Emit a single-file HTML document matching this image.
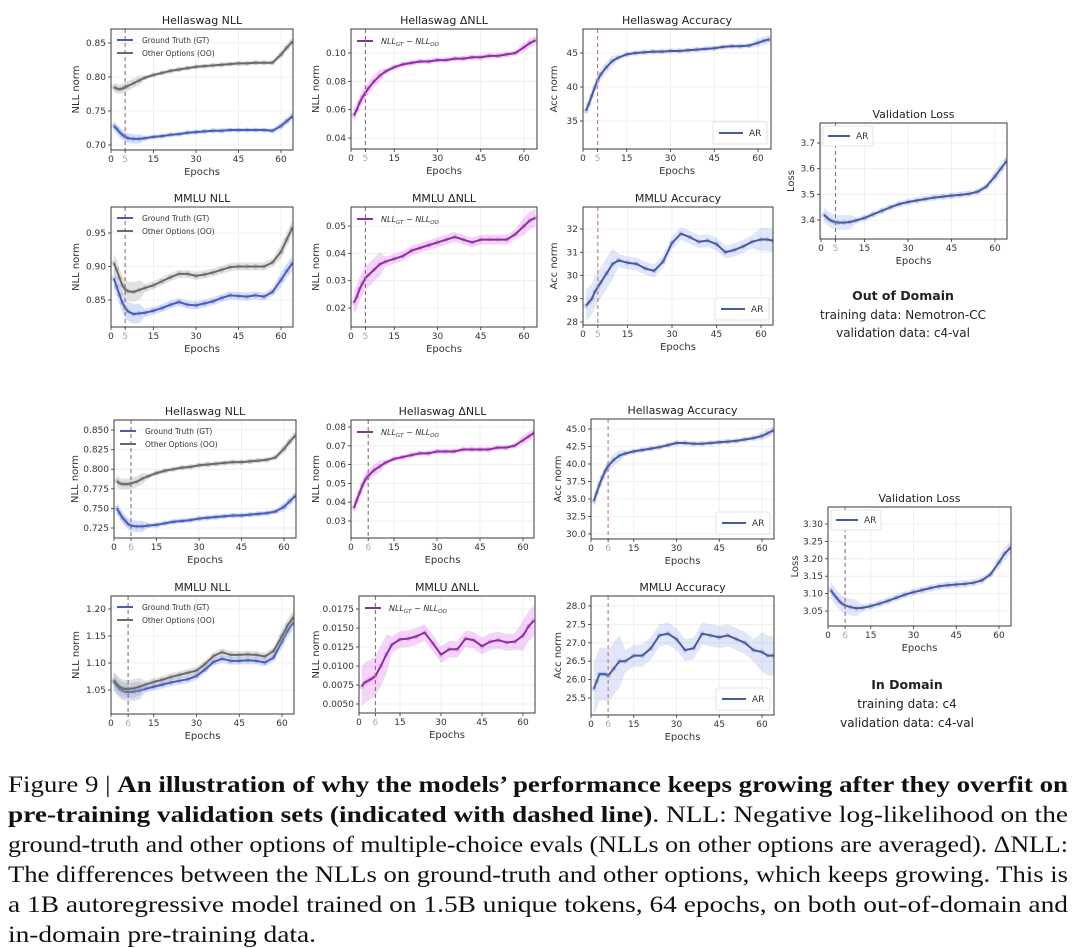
<!DOCTYPE html>
<html><head><meta charset="utf-8">
<style>
html,body{margin:0;padding:0;background:#fff;}
svg{display:block;}
</style></head>
<body>
<svg id="fig" width="1080" height="948" viewBox="0 0 1080 948" xmlns="http://www.w3.org/2000/svg">
<rect width="1080" height="948" fill="#fff"/>
<g id="charts"></g>
<g id="notes" font-family="DejaVu Sans, Liberation Sans, sans-serif" text-anchor="middle" fill="#222">
  <text x="903" y="300" font-size="12.5" font-weight="bold">Out of Domain</text>
  <text x="903" y="319" font-size="12">training data: Nemotron-CC</text>
  <text x="903" y="337" font-size="12">validation data: c4-val</text>
  <text x="907" y="689" font-size="12.5" font-weight="bold">In Domain</text>
  <text x="907" y="708" font-size="12">training data: c4</text>
  <text x="907" y="727" font-size="12">validation data: c4-val</text>
</g>
<g id="caption" font-family="Liberation Serif, serif" font-size="23" fill="#111">
  <text x="8" y="792" textLength="1060" lengthAdjust="spacingAndGlyphs">Figure 9 | <tspan font-weight="bold">An illustration of why the models’ performance keeps growing after they overfit on</tspan></text>
  <text x="8" y="822" textLength="1060" lengthAdjust="spacingAndGlyphs"><tspan font-weight="bold">pre-training validation sets (indicated with dashed line)</tspan>. NLL: Negative log-likelihood on the</text>
  <text x="8" y="852" textLength="1060" lengthAdjust="spacingAndGlyphs">ground-truth and other options of multiple-choice evals (NLLs on other options are averaged). ΔNLL:</text>
  <text x="8" y="882" textLength="1060" lengthAdjust="spacingAndGlyphs">The differences between the NLLs on ground-truth and other options, which keeps growing. This is</text>
  <text x="8" y="912" textLength="1060" lengthAdjust="spacingAndGlyphs">a 1B autoregressive model trained on 1.5B unique tokens, 64 epochs, on both out-of-domain and</text>
  <text x="8" y="942" textLength="308" lengthAdjust="spacingAndGlyphs">in-domain pre-training data.</text>
</g>
</svg>
<script>
// ---- data (epochs shared by every series) ----
const epochs = [1,2,3,4,5,6,8,10,12,15,18,21,24,27,30,33,36,39,42,45,48,51,54,57,60,62,64];
const xTicksA = [0,5,15,30,45,60];
const xTicksB = [0,6,15,30,45,60];
const overfitA = 5;
const overfitB = 6;
// Out-of-domain
const hsNllGtA = [0.728,0.724,0.719,0.715,0.712,0.710,0.709,0.709,0.710,0.712,0.713,0.715,0.716,0.718,0.719,0.720,0.721,0.721,0.722,0.722,0.722,0.722,0.722,0.721,0.728,0.735,0.742];
const hsNllOoA = [0.785,0.783,0.782,0.783,0.785,0.787,0.791,0.795,0.799,0.803,0.806,0.809,0.811,0.813,0.815,0.816,0.817,0.818,0.819,0.820,0.820,0.821,0.821,0.821,0.833,0.843,0.852];
const hsDeltaA = [0.056,0.060,0.065,0.069,0.072,0.075,0.080,0.084,0.087,0.090,0.092,0.093,0.094,0.094,0.095,0.095,0.096,0.096,0.097,0.097,0.098,0.098,0.099,0.100,0.104,0.107,0.109];
const hsAccA = [36.5,37.5,38.7,39.9,41.0,41.8,42.9,43.8,44.3,44.8,45.0,45.1,45.2,45.2,45.3,45.3,45.4,45.5,45.6,45.7,45.9,46.0,46.0,46.1,46.5,46.8,47.0];
const mmNllGtA = [0.882,0.870,0.858,0.846,0.838,0.833,0.829,0.830,0.831,0.834,0.838,0.843,0.847,0.843,0.842,0.845,0.848,0.853,0.857,0.856,0.855,0.857,0.855,0.862,0.880,0.893,0.905];
const mmNllOoA = [0.905,0.895,0.883,0.872,0.866,0.863,0.862,0.865,0.868,0.872,0.878,0.884,0.889,0.889,0.886,0.888,0.891,0.895,0.899,0.900,0.900,0.900,0.900,0.906,0.922,0.940,0.958];
const mmDeltaA = [0.022,0.024,0.027,0.029,0.031,0.032,0.034,0.036,0.037,0.038,0.039,0.041,0.042,0.043,0.044,0.045,0.046,0.045,0.044,0.045,0.045,0.045,0.045,0.047,0.050,0.052,0.053];
const mmAccA = [28.7,28.85,29.0,29.3,29.5,29.7,30.1,30.5,30.65,30.55,30.5,30.3,30.2,30.6,31.4,31.8,31.65,31.45,31.5,31.35,31.0,31.1,31.25,31.45,31.55,31.55,31.5];
const valLossA = [3.420,3.410,3.400,3.395,3.392,3.390,3.390,3.392,3.398,3.408,3.422,3.436,3.450,3.462,3.470,3.476,3.482,3.487,3.491,3.495,3.498,3.502,3.510,3.530,3.570,3.600,3.630];
// In-domain
const hsNllGtB = [0.750,0.744,0.738,0.734,0.730,0.728,0.727,0.727,0.728,0.729,0.731,0.733,0.734,0.735,0.737,0.738,0.739,0.740,0.741,0.741,0.742,0.743,0.744,0.746,0.752,0.759,0.766];
const hsNllOoB = [0.785,0.782,0.781,0.781,0.781,0.782,0.784,0.788,0.791,0.795,0.798,0.800,0.802,0.803,0.805,0.806,0.807,0.808,0.809,0.809,0.810,0.811,0.812,0.815,0.826,0.835,0.843];
const hsDeltaB = [0.037,0.041,0.045,0.049,0.052,0.054,0.057,0.059,0.061,0.063,0.064,0.065,0.066,0.066,0.067,0.067,0.067,0.068,0.068,0.068,0.068,0.069,0.069,0.070,0.073,0.075,0.077];
const hsAccB = [34.7,35.9,37.1,38.1,39.0,39.7,40.6,41.2,41.5,41.8,42.0,42.2,42.4,42.7,43.0,43.0,42.9,42.9,43.0,43.1,43.2,43.3,43.5,43.7,44.0,44.4,44.8];
const mmNllGtB = [1.065,1.058,1.052,1.049,1.047,1.046,1.047,1.049,1.052,1.056,1.060,1.064,1.067,1.070,1.076,1.088,1.102,1.108,1.104,1.104,1.105,1.104,1.101,1.110,1.140,1.160,1.175];
const mmNllOoB = [1.068,1.061,1.056,1.053,1.052,1.052,1.053,1.056,1.060,1.065,1.069,1.074,1.078,1.082,1.086,1.098,1.113,1.120,1.115,1.115,1.116,1.115,1.112,1.122,1.150,1.170,1.185];
const mmDeltaB = [0.0073,0.0078,0.0080,0.0082,0.0084,0.0087,0.0100,0.0115,0.0128,0.0135,0.0136,0.0139,0.0144,0.0130,0.0115,0.0122,0.0122,0.0136,0.0134,0.0126,0.0132,0.0134,0.0131,0.0132,0.0140,0.0152,0.0160];
const mmAccB = [25.75,25.95,26.15,26.15,26.15,26.1,26.3,26.5,26.5,26.65,26.65,26.85,27.2,27.25,27.1,26.8,26.85,27.25,27.2,27.15,27.2,27.1,27.0,26.8,26.75,26.65,26.65];
const valLossB = [3.110,3.098,3.088,3.078,3.071,3.066,3.061,3.058,3.059,3.064,3.071,3.079,3.088,3.097,3.104,3.110,3.116,3.121,3.124,3.126,3.128,3.131,3.138,3.155,3.190,3.215,3.232];
// y tick labels
const yT_hsNllA = ['0.70','0.75','0.80','0.85'];
const yT_hsDeltaA = ['0.04','0.06','0.08','0.10'];
const yT_hsAccA = ['35','40','45'];
const yT_mmNllA = ['0.85','0.90','0.95'];
const yT_mmDeltaA = ['0.02','0.03','0.04','0.05'];
const yT_mmAccA = ['28','29','30','31','32'];
const yT_valA = ['3.4','3.5','3.6','3.7'];
const yT_hsNllB = ['0.725','0.750','0.775','0.800','0.825','0.850'];
const yT_hsDeltaB = ['0.03','0.04','0.05','0.06','0.07','0.08'];
const yT_hsAccB = ['30.0','32.5','35.0','37.5','40.0','42.5','45.0'];
const yT_mmNllB = ['1.05','1.10','1.15','1.20'];
const yT_mmDeltaB = ['0.0050','0.0075','0.0100','0.0125','0.0150','0.0175'];
const yT_mmAccB = ['25.5','26.0','26.5','27.0','27.5','28.0'];
const yT_valB = ['3.05','3.10','3.15','3.20','3.25','3.30'];

const NS='http://www.w3.org/2000/svg';
const root=document.getElementById('charts');
const FONT='DejaVu Sans, Liberation Sans, sans-serif';
function mk(tag,attrs,parent){const e=document.createElementNS(NS,tag);for(const k in attrs)e.setAttribute(k,attrs[k]);(parent||root).appendChild(e);return e;}

const STY={
  gt:{line:'#4a5cb8',band:'rgba(110,140,235,0.28)',dot:'rgba(110,140,235,0.35)'},
  oo:{line:'#6a6a6a',band:'rgba(160,160,160,0.30)',dot:'rgba(160,160,160,0.4)'},
  delta:{line:'#8c2f9e',band:'rgba(225,120,240,0.32)',dot:'rgba(225,120,240,0.4)'},
  ar:{line:'#4a5a9e',band:'rgba(120,145,225,0.22)',dot:'rgba(120,145,225,0.35)'}
};

function chart(cfg){
  const g=mk('g',{},root);
  
  
  const [L,T,R,B]=cfg.box;
  const xs=v=>cfg.xp[0]+(v)*(cfg.xp[1]-cfg.xp[0])/60;
  const [v1,p1,v2,p2]=cfg.ym;
  const ys=v=>p1+(v-v1)*(p2-p1)/(v2-v1);
  const cid='clip-'+cfg.name;
  const cp=mk('clipPath',{id:cid},g);mk('rect',{x:L,y:T,width:R-L,height:B-T},cp);
  cfg.xt.forEach(t=>{ if(t!==cfg.ov){const gl=mk('line',{x1:xs(t),x2:xs(t),y1:T,y2:B,stroke:'#ececec','stroke-width':0.8},g);}});
  cfg.yt.forEach(t=>{const gl=mk('line',{x1:L,x2:R,y1:ys(+t),y2:ys(+t),stroke:'#ececec','stroke-width':0.8},g);});
  const plot=mk('g',{'clip-path':'url(#'+cid+')'},g);
  cfg.series.forEach(s=>{
    const st=STY[s.style];
    const w=i=>cfg.bw*(epochs[i]<=10?2.4:(epochs[i]>=58?1.8:1));
    let up=epochs.map((e,i)=>xs(e)+','+ys(s.data[i]+w(i)));
    let dn=epochs.map((e,i)=>xs(e)+','+ys(s.data[i]-w(i))).reverse();
    const band=mk('polygon',{points:up.concat(dn).join(' '),fill:st.band},plot);
    
    
    epochs.forEach((e,i)=>{const d=mk('circle',{cx:xs(e),cy:ys(s.data[i]),r:2.6,fill:st.dot},plot);
      
      });
    const ln=mk('polyline',{points:epochs.map((e,i)=>xs(e)+','+ys(s.data[i])).join(' '),fill:'none',stroke:st.line,'stroke-width':2,'stroke-linejoin':'round'},plot);
    
    
  });
  const dl=mk('line',{x1:xs(cfg.ov),x2:xs(cfg.ov),y1:T,y2:B,stroke:cfg.dash||'#8a6e78','stroke-width':1.1,'stroke-dasharray':'4,3'},g);
  
  
  const fr=mk('rect',{x:L,y:T,width:R-L,height:B-T,fill:'none',stroke:'#3a3a3a','stroke-width':1},g);
  
  
  cfg.xt.forEach(t=>{
    mk('line',{x1:xs(t),x2:xs(t),y1:B,y2:B+3,stroke:'#333','stroke-width':0.8},g);
    const tx=mk('text',{x:xs(t),y:B+12,'font-size':9,'font-family':FONT,'text-anchor':'middle',fill:t===cfg.ov?'#aaa':'#333'},g);
    tx.textContent=t;
    
    
  });
  cfg.yt.forEach(t=>{
    mk('line',{x1:L-3,x2:L,y1:ys(+t),y2:ys(+t),stroke:'#333','stroke-width':0.8},g);
    const tx=mk('text',{x:L-5,y:ys(+t)+3,'font-size':9,'font-family':FONT,'text-anchor':'end',fill:'#333'},g);
    tx.textContent=t;
    
    
  });
  const xl=mk('text',{x:(L+R)/2,y:B+25,'font-size':10,'font-family':FONT,'text-anchor':'middle',fill:'#333'},g);
  xl.textContent='Epochs';
  
  
  const yx=L-cfg.ylo, yy=(T+B)/2;
  const yl=mk('text',{x:yx,y:yy,'font-size':10,'font-family':FONT,'text-anchor':'middle',fill:'#333',transform:'rotate(-90 '+yx+' '+yy+')'},g);
  yl.textContent=cfg.ylabel;
  
  
  const ti=mk('text',{x:(L+R)/2,y:T-5,'font-size':11,'font-family':FONT,'text-anchor':'middle',fill:'#222'},g);
  ti.textContent=cfg.title;
  
  
  const lg=mk('g',{},g);
  
  
  if(cfg.legend==='nll'){
    [['gt','Ground Truth (GT)'],['oo','Other Options (OO)']].forEach((p,i)=>{
      const yy=T+11+i*13;
      mk('line',{x1:L+6,x2:L+22,y1:yy,y2:yy,stroke:STY[p[0]].line,'stroke-width':2},lg);
      const t=mk('text',{x:L+31,y:yy+3,'font-size':7.5,'font-family':FONT,fill:'#333'},lg);
      t.textContent=p[1];
      
      
    });
  } else if(cfg.legend==='delta'){
    const yy=T+12;
    mk('line',{x1:L+6,x2:L+22,y1:yy,y2:yy,stroke:STY.delta.line,'stroke-width':2},lg);
    const t=mk('text',{x:L+30,y:yy+3,'font-size':8,'font-family':FONT,'font-style':'italic',fill:'#333'},lg);
    t.innerHTML='NLL<tspan font-size="5.5" dy="2">GT</tspan><tspan dy="-2"> − NLL</tspan><tspan font-size="5.5" dy="2">OO</tspan>';
    
    
  } else if(cfg.legend==='arBR'){
    mk('rect',{x:R-58,y:B-27,width:54,height:22,fill:'#fff',stroke:'#ddd','stroke-width':0.8,rx:2},lg);
    mk('line',{x1:R-52,x2:R-28,y1:B-16,y2:B-16,stroke:STY.ar.line,'stroke-width':2},lg);
    const t=mk('text',{x:R-22,y:B-13,'font-size':9,'font-family':FONT,fill:'#333'},lg);
    t.textContent='AR';
    
    
  } else if(cfg.legend==='arTL'){
    mk('rect',{x:L+3,y:T+3,width:50,height:20,fill:'#fff',stroke:'#ddd','stroke-width':0.8,rx:2},lg);
    mk('line',{x1:L+8,x2:L+30,y1:T+13,y2:T+13,stroke:STY.ar.line,'stroke-width':2},lg);
    const t=mk('text',{x:L+36,y:T+16,'font-size':9,'font-family':FONT,fill:'#333'},lg);
    t.textContent='AR';
    
    
  }
}

const RED='#c07878';
chart({name:'ood-hellaswag-nll',title:'Hellaswag NLL',ylabel:'NLL norm',ylo:32,box:[111,29,293,150],xp:[111,281],ym:[0.85,43,0.70,145],yt:yT_hsNllA,xt:xTicksA,ov:overfitA,bw:0.003,legend:'nll',
  series:[{name:'gt',style:'gt',data:hsNllGtA},{name:'oo',style:'oo',data:hsNllOoA}]});
chart({name:'ood-hellaswag-delta-nll',title:'Hellaswag ΔNLL',ylabel:'NLL norm',ylo:32,box:[351,29,537,149],xp:[351,524],ym:[0.10,53,0.04,138],yt:yT_hsDeltaA,xt:xTicksA,ov:overfitA,bw:0.0018,legend:'delta',
  series:[{name:'delta',style:'delta',data:hsDeltaA}]});
chart({name:'ood-hellaswag-accuracy',title:'Hellaswag Accuracy',ylabel:'Acc norm',ylo:26,box:[583,29,771,149],xp:[583,758],ym:[45,53,35,121],yt:yT_hsAccA,xt:xTicksA,ov:overfitA,bw:0.35,legend:'arBR',dash:RED,
  series:[{name:'ar',style:'ar',data:hsAccA}]});
chart({name:'ood-mmlu-nll',title:'MMLU NLL',ylabel:'NLL norm',ylo:32,box:[111,207,293,327],xp:[111,281],ym:[0.95,233,0.85,300],yt:yT_mmNllA,xt:xTicksA,ov:overfitA,bw:0.006,legend:'nll',
  series:[{name:'gt',style:'gt',data:mmNllGtA},{name:'oo',style:'oo',data:mmNllOoA}]});
chart({name:'ood-mmlu-delta-nll',title:'MMLU ΔNLL',ylabel:'NLL norm',ylo:32,box:[351,207,537,327],xp:[351,524],ym:[0.05,226,0.02,308],yt:yT_mmDeltaA,xt:xTicksA,ov:overfitA,bw:0.0018,legend:'delta',
  series:[{name:'delta',style:'delta',data:mmDeltaA}]});
chart({name:'ood-mmlu-accuracy',title:'MMLU Accuracy',ylabel:'Acc norm',ylo:26,box:[583,207,773,325],xp:[583,761],ym:[32,229,28,322],yt:yT_mmAccA,xt:xTicksA,ov:overfitA,bw:0.28,legend:'arBR',dash:RED,
  series:[{name:'ar',style:'ar',data:mmAccA}]});
chart({name:'ood-validation-loss',title:'Validation Loss',ylabel:'Loss',ylo:26,box:[820,123,1007,239],xp:[821,995],ym:[3.7,143,3.4,220],yt:yT_valA,xt:xTicksA,ov:overfitA,bw:0.012,legend:'arTL',
  series:[{name:'ar',style:'ar',data:valLossA}]});
chart({name:'id-hellaswag-nll',title:'Hellaswag NLL',ylabel:'NLL norm',ylo:36,box:[114,420,296,538],xp:[114,284],ym:[0.85,430,0.725,528],yt:yT_hsNllB,xt:xTicksB,ov:overfitB,bw:0.003,legend:'nll',
  series:[{name:'gt',style:'gt',data:hsNllGtB},{name:'oo',style:'oo',data:hsNllOoB}]});
chart({name:'id-hellaswag-delta-nll',title:'Hellaswag ΔNLL',ylabel:'NLL norm',ylo:32,box:[351,420,534,538],xp:[351,523],ym:[0.08,427,0.03,521],yt:yT_hsDeltaB,xt:xTicksB,ov:overfitB,bw:0.0013,legend:'delta',
  series:[{name:'delta',style:'delta',data:hsDeltaB}]});
chart({name:'id-hellaswag-accuracy',title:'Hellaswag Accuracy',ylabel:'Acc norm',ylo:30,box:[591,419,774,539],xp:[591,762],ym:[45,429,30,534],yt:yT_hsAccB,xt:xTicksB,ov:overfitB,bw:0.35,legend:'arBR',dash:RED,
  series:[{name:'ar',style:'ar',data:hsAccB}]});
chart({name:'id-mmlu-nll',title:'MMLU NLL',ylabel:'NLL norm',ylo:32,box:[111,596,294,714],xp:[111,282],ym:[1.20,609,1.05,690],yt:yT_mmNllB,xt:xTicksB,ov:overfitB,bw:0.007,legend:'nll',
  series:[{name:'gt',style:'gt',data:mmNllGtB},{name:'oo',style:'oo',data:mmNllOoB}]});
chart({name:'id-mmlu-delta-nll',title:'MMLU ΔNLL',ylabel:'NLL norm',ylo:40,box:[359,596,535,713],xp:[359,523],ym:[0.0175,609,0.005,704],yt:yT_mmDeltaB,xt:xTicksB,ov:overfitB,bw:0.0011,legend:'delta',
  series:[{name:'delta',style:'delta',data:mmDeltaB}]});
chart({name:'id-mmlu-accuracy',title:'MMLU Accuracy',ylabel:'Acc norm',ylo:30,box:[591,596,774,715],xp:[591,762],ym:[28,606,25.5,698],yt:yT_mmAccB,xt:xTicksB,ov:overfitB,bw:0.3,legend:'arBR',dash:RED,
  series:[{name:'ar',style:'ar',data:mmAccB}]});
chart({name:'id-validation-loss',title:'Validation Loss',ylabel:'Loss',ylo:30,box:[828,507,1011,626],xp:[828,999],ym:[3.30,524,3.05,611],yt:yT_valB,xt:xTicksB,ov:overfitB,bw:0.01,legend:'arTL',
  series:[{name:'ar',style:'ar',data:valLossB}]});
</script>
</body></html>
